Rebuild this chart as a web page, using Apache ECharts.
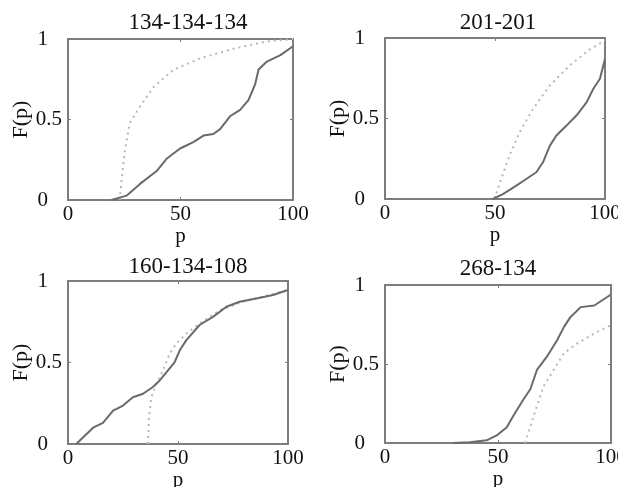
<!DOCTYPE html>
<html>
<head>
<meta charset="utf-8">
<script src="https://cdn.jsdelivr.net/npm/echarts@6/dist/echarts.min.js"></script>
<style>
  html, body { margin: 0; padding: 0; background: #fff; }
  #chart { width: 618px; height: 487px; }
</style>
</head>
<body>
<div id="chart"></div>
<script>
// panel titles
const titles = ["134-134-134", "201-201", "160-134-108", "268-134"];

// tick labels
const xTicks = [0, 50, 100];
const yTicks = [0, 0.5, 1];

// 134-134-134
const p1SolidX = [19.3, 26, 32, 39.4, 43.8, 49.8, 55.7, 60.2, 64.6, 67.6, 72, 76.5, 80.2, 83.2, 84.7, 88.4, 94.4, 100];
const p1SolidY = [0, 0.027, 0.1, 0.18, 0.256, 0.32, 0.36, 0.40, 0.41, 0.44, 0.52, 0.56, 0.62, 0.72, 0.81, 0.86, 0.9, 0.955];
const p1DotX = [23, 23.8, 25.3, 27.5, 32, 37.9, 47, 58.7, 73.6, 88.4, 100];
const p1DotY = [0, 0.12, 0.31, 0.48, 0.58, 0.70, 0.81, 0.88, 0.94, 0.985, 1];

// 201-201
const p2SolidX = [49, 53.6, 59.7, 64.2, 68.8, 71.8, 74.9, 77.9, 82.5, 87.1, 91.6, 94.7, 97.7, 100];
const p2SolidY = [0, 0.03, 0.083, 0.124, 0.166, 0.228, 0.33, 0.394, 0.456, 0.52, 0.60, 0.685, 0.747, 0.87];
const p2DotX = [49.8, 52.8, 56.6, 61.2, 67.3, 74.9, 84, 93.2, 100];
const p2DotY = [0, 0.124, 0.27, 0.415, 0.56, 0.705, 0.83, 0.93, 0.985];

// 160-134-108
const p3SolidX = [3.8, 6.8, 11.4, 15.9, 20.5, 25, 29.5, 34.1, 38.6, 41.7, 44.7, 48.5, 50.8, 53.8, 59.8, 65.9, 72, 78, 85.6, 93.2, 100];
const p3SolidY = [0, 0.04, 0.1, 0.13, 0.205, 0.236, 0.287, 0.308, 0.35, 0.39, 0.44, 0.503, 0.575, 0.637, 0.73, 0.78, 0.842, 0.873, 0.893, 0.914, 0.945];
const p3DotX = [36.4, 36.8, 37.9, 40.2, 43.2, 46.2, 49.2, 53.8, 59.8, 68.9, 81, 93.2, 100];
const p3DotY = [0, 0.164, 0.287, 0.37, 0.452, 0.554, 0.616, 0.678, 0.74, 0.82, 0.88, 0.92, 0.945];

// 268-134
const p4SolidX = [30, 37.5, 45, 49.4, 53.9, 56.8, 61.3, 64.3, 67.3, 71.7, 76.2, 79.2, 82.1, 86.6, 92.6, 100];
const p4SolidY = [0, 0.005, 0.017, 0.048, 0.1, 0.173, 0.277, 0.34, 0.465, 0.548, 0.652, 0.735, 0.798, 0.86, 0.87, 0.94];
const p4DotX = [62, 65.8, 70.2, 74.7, 79.2, 85.1, 92.6, 100];
const p4DotY = [0, 0.173, 0.36, 0.465, 0.569, 0.631, 0.694, 0.746];

const solids = [[p1SolidX, p1SolidY], [p2SolidX, p2SolidY], [p3SolidX, p3SolidY], [p4SolidX, p4SolidY]];
const dots = [[p1DotX, p1DotY], [p2DotX, p2DotY], [p3DotX, p3DotY], [p4DotX, p4DotY]];

// 绘图区位置
const grids = [
  { left: 68, top: 39, width: 225, height: 161 },
  { left: 385, top: 38, width: 220, height: 161 },
  { left: 68, top: 281, width: 220, height: 163 },
  { left: 385, top: 285, width: 226, height: 158 }
].map(g => Object.assign(g, { outerBoundsMode: "none", containLabel: false }));
const titlePos = [[183, 6], [493, 6], [183, 250], [493, 252]];

const FONT = "Liberation Serif";
const frame = "#7d7d7d";

function pair(xs, ys) {
  return xs.map((x, i) => [x, ys[i]]);
}

const xAxes = [];
const yAxes = [];
const series = [];

grids.forEach((g, i) => {
  // 下方 x 轴
  xAxes.push({
    gridIndex: i, type: "value", min: xTicks[0], max: xTicks[2], interval: 50,
    position: "bottom",
    name: "p", nameLocation: "middle", nameGap: 19,
    nameTextStyle: { fontFamily: FONT, fontSize: 21, color: "#111" },
    axisLine: { onZero: false, lineStyle: { color: frame, width: 2 } },
    axisTick: { inside: true, length: 3, lineStyle: { color: frame } },
    axisLabel: { fontFamily: FONT, fontSize: 21, color: "#111", margin: 4 },
    splitLine: { show: false }
  });
  // 上方 x 轴（只画框和刻度）
  xAxes.push({
    gridIndex: i, type: "value", min: 0, max: 100, interval: 50,
    position: "top",
    axisLine: { onZero: false, lineStyle: { color: frame, width: 2 } },
    axisTick: { inside: true, length: 3, lineStyle: { color: frame } },
    axisLabel: { show: false },
    splitLine: { show: false }
  });
  // 左侧 y 轴
  yAxes.push({
    gridIndex: i, type: "value", min: yTicks[0], max: yTicks[2], interval: 0.5,
    position: "left",
    name: "F(p)", nameLocation: "middle", nameGap: 36,
    nameTextStyle: { fontFamily: FONT, fontSize: 22, color: "#111" },
    axisLine: { onZero: false, lineStyle: { color: frame, width: 2 } },
    axisTick: { inside: true, length: 3, lineStyle: { color: frame } },
    axisLabel: {
      fontFamily: FONT, fontSize: 21, color: "#111", margin: 6,
      formatter: v => (v === 0.5 ? "{m|0.5}" : "{e|" + v + "}"),
      rich: {
        m: { fontFamily: FONT, fontSize: 21, color: "#111" },
        e: { fontFamily: FONT, fontSize: 21, color: "#111", padding: [0, 14, 0, 0] }
      }
    },
    splitLine: { show: false }
  });
  // 右侧 y 轴
  yAxes.push({
    gridIndex: i, type: "value", min: 0, max: 1, interval: 0.5,
    position: "right",
    axisLine: { onZero: false, lineStyle: { color: frame, width: 2 } },
    axisTick: { inside: true, length: 3, lineStyle: { color: frame } },
    axisLabel: { show: false },
    splitLine: { show: false }
  });

  series.push({
    type: "line", xAxisIndex: i * 2, yAxisIndex: i * 2,
    data: pair(dots[i][0], dots[i][1]),
    showSymbol: false, smooth: false,
    lineStyle: { color: "#b8b8b8", width: 2, type: [2, 4] },
    z: 2
  });
  series.push({
    type: "line", xAxisIndex: i * 2, yAxisIndex: i * 2,
    data: pair(solids[i][0], solids[i][1]),
    showSymbol: false, smooth: false,
    lineStyle: { color: "#6a6a6a", width: 2 },
    z: 3
  });
});

const chart = echarts.init(document.getElementById("chart"));
chart.setOption({
  animation: false,
  backgroundColor: "#fff",
  title: titles.map((t, i) => ({
    text: t, left: titlePos[i][0], top: titlePos[i][1], textAlign: "center",
    textStyle: { fontFamily: FONT, fontSize: 23, fontWeight: "normal", color: "#111" }
  })),
  grid: grids,
  xAxis: xAxes,
  yAxis: yAxes,
  series: series
});
</script>
</body>
</html>
